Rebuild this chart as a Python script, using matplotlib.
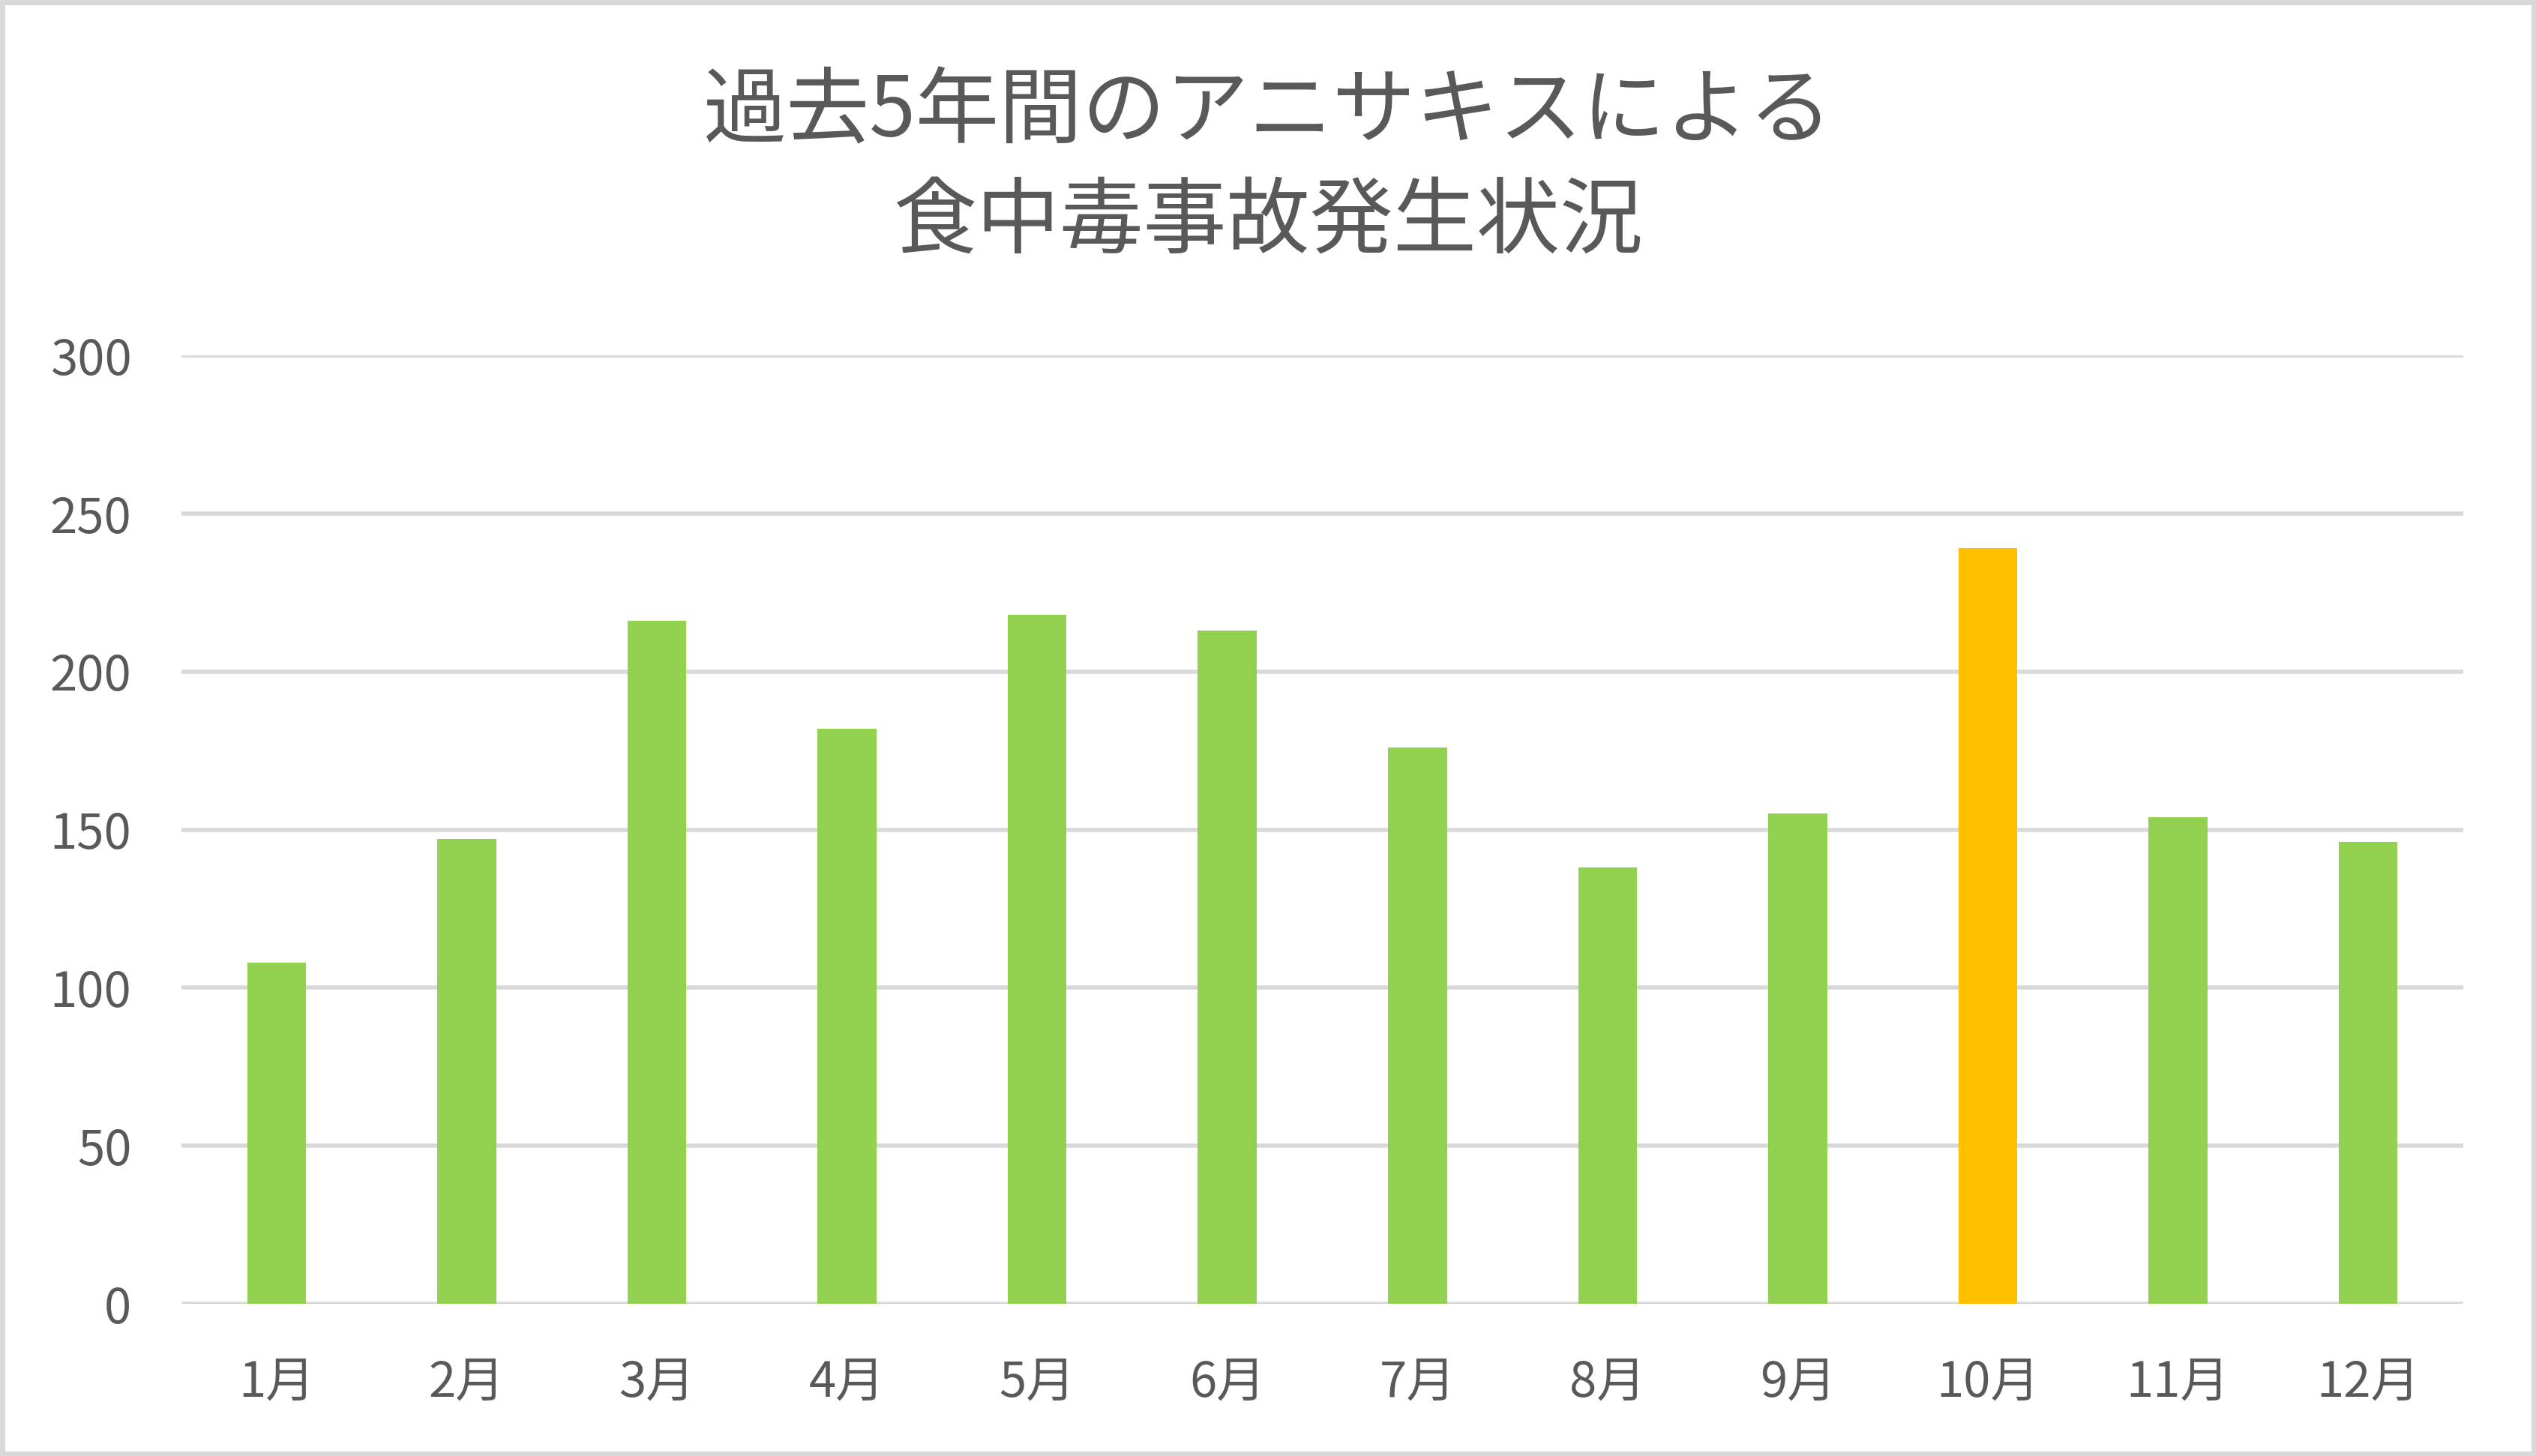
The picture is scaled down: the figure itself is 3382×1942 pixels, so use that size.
"""過去5年間のアニサキスによる食中毒事故発生状況（月別）の棒グラフ。"""

import matplotlib.pyplot as plt
from matplotlib.patches import Rectangle

plt.rcParams["font.family"] = ["Noto Sans CJK JP", "DejaVu Sans"]

months = ["1月", "2月", "3月", "4月", "5月", "6月",
          "7月", "8月", "9月", "10月", "11月", "12月"]
cases = [108, 147, 216, 182, 218, 213, 176, 138, 155, 239, 154, 146]
highlight = "10月"
y_ticks = [0, 50, 100, 150, 200, 250, 300]

GREEN = "#92D050"
ORANGE = "#FFC000"
TEXT = "#595959"
GRID = "#D9D9D9"


def main() -> None:
    fig = plt.figure(figsize=(16.91, 9.71), dpi=200)
    ax = fig.add_axes([0.0716, 0.1045, 0.8997, 0.6514])

    colors = [ORANGE if m == highlight else GREEN for m in months]
    ax.bar(months, cases, width=0.31, color=colors, zorder=3)

    ax.set_ylim(0, 300)
    ax.set_xlim(-0.5, len(months) - 0.5)
    ax.set_yticks(y_ticks)
    ax.yaxis.grid(True, color=GRID, linewidth=2.0, zorder=0)
    ax.set_axisbelow(True)
    for side in ["top", "right", "left", "bottom"]:
        ax.spines[side].set_visible(False)
    ax.tick_params(axis="y", length=0, pad=24, labelsize=23.5, labelcolor=TEXT)
    ax.tick_params(axis="x", length=0, pad=26, labelsize=23.5, labelcolor=TEXT)

    fig.text(0.5, 0.885, "過去5年間のアニサキスによる\n食中毒事故発生状況",
             ha="center", va="center", fontsize=40, color=TEXT,
             linespacing=1.36)

    # 外枠
    fig.patches.append(Rectangle((0.001, 0.0015), 0.998, 0.997,
                                 transform=fig.transFigure, fill=False,
                                 edgecolor=GRID, linewidth=2.5))

    fig.savefig("out.png", facecolor="white")


if __name__ == "__main__":
    main()
